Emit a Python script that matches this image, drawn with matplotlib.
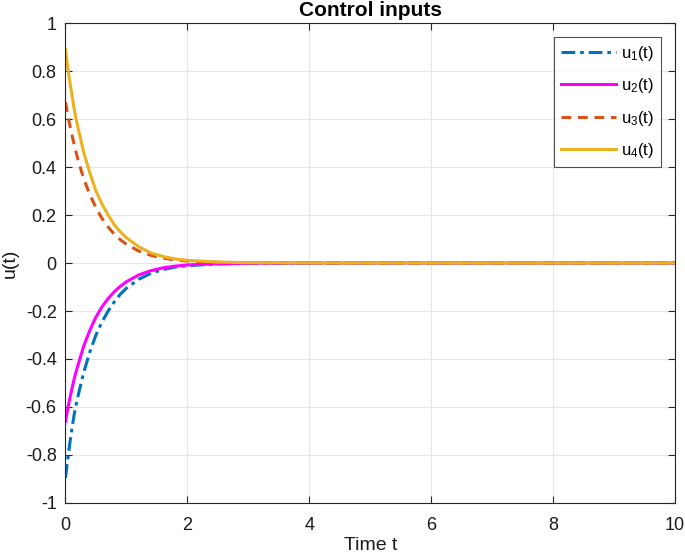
import matplotlib
matplotlib.use("Agg")
import matplotlib.pyplot as plt

plt.rcParams['font.family'] = ['Liberation Sans', 'DejaVu Sans']
plt.rcParams['mathtext.fontset'] = 'custom'
plt.rcParams['mathtext.rm'] = 'Liberation Sans'
plt.rcParams['mathtext.default'] = 'rm'

# Time samples (s)
t = [0, 0.05, 0.1, 0.15, 0.2, 0.3, 0.4, 0.5, 0.6, 0.7, 0.8, 0.9, 1.0, 1.2, 1.4,
     1.6, 1.8, 2.0, 2.5, 3.0, 4, 5, 6, 7, 8, 9, 10]

u1 = [-0.895, -0.79, -0.70, -0.62, -0.56, -0.455, -0.37, -0.30, -0.245, -0.20,
      -0.162, -0.13, -0.105, -0.068, -0.043, -0.027, -0.017, -0.011, -0.004,
      -0.0015, -0.0003, 0, 0, 0, 0, 0, 0]
u2 = [-0.66, -0.59, -0.53, -0.475, -0.43, -0.345, -0.28, -0.225, -0.182, -0.148,
      -0.12, -0.097, -0.078, -0.05, -0.032, -0.02, -0.013, -0.008, -0.003,
      -0.001, -0.0002, 0, 0, 0, 0, 0, 0]
u3 = [0.67, 0.60, 0.54, 0.485, 0.435, 0.35, 0.285, 0.23, 0.185, 0.15,
      0.12, 0.097, 0.078, 0.05, 0.032, 0.02, 0.013, 0.008, 0.003,
      0.001, 0.0002, 0, 0, 0, 0, 0, 0]
u4 = [0.89, 0.79, 0.71, 0.63, 0.57, 0.46, 0.375, 0.30, 0.245, 0.20,
      0.16, 0.13, 0.105, 0.068, 0.042, 0.027, 0.017, 0.011, 0.004,
      0.0015, 0.0003, 0, 0, 0, 0, 0, 0]

labels = ['u$_1$(t)', 'u$_2$(t)', 'u$_3$(t)', 'u$_4$(t)']
xticks = [0, 2, 4, 6, 8, 10]
yticks = [-1, -0.8, -0.6, -0.4, -0.2, 0, 0.2, 0.4, 0.6, 0.8, 1]
yticklabels = ['-1', '-0.8', '-0.6', '-0.4', '-0.2', '0', '0.2', '0.4', '0.6', '0.8', '1']

fig = plt.figure(figsize=(6.85, 5.6), dpi=100)
ax = fig.add_axes([0.0956, 0.1018, 0.8898, 0.8571])

axcol = '#262626'
ax.plot(t, u1, color='#0072BD', lw=2.2, dashes=(4.5, 1.6, 1.2, 1.6), label=labels[0])
ax.plot(t, u2, color='#FF00FF', lw=2.2, label=labels[1])
ax.plot(t, u3, color='#D95319', lw=2.2, dashes=(3.2, 2.2), label=labels[2])
ax.plot(t, u4, color='#EDB120', lw=2.2, label=labels[3])

ax.set_xlim(0, 10)
ax.set_ylim(-1, 1)
ax.set_xticks(xticks)
ax.set_xticklabels([str(v) for v in xticks])
ax.set_yticks(yticks)
ax.set_yticklabels(yticklabels)
ax.grid(True, color='#e6e6e6', lw=0.8)
ax.set_axisbelow(True)
ax.tick_params(direction='in', top=True, right=True, length=5, width=0.8,
               colors=axcol, labelsize=13, labelcolor='#1a1a1a')
ax.tick_params(axis='x', pad=10)
ax.tick_params(axis='y', pad=6.3)
for s in ax.spines.values():
    s.set_color(axcol)
    s.set_linewidth(0.8)

ax.set_title('Control inputs', fontsize=15, fontweight='bold', color='black', pad=5)
ax.set_xlabel('Time t', fontsize=14, color='#1a1a1a', labelpad=2)
ax.set_ylabel('u(t)', fontsize=14, color='#1a1a1a', labelpad=5)

leg = ax.legend(loc='upper right', fontsize=12, frameon=True, fancybox=False,
                edgecolor=axcol, handlelength=3.3, borderaxespad=0.85,
                labelspacing=0.8, handletextpad=0.3, borderpad=0.4)
leg.get_frame().set_linewidth(0.8)

fig.savefig('out.png', dpi=100)
